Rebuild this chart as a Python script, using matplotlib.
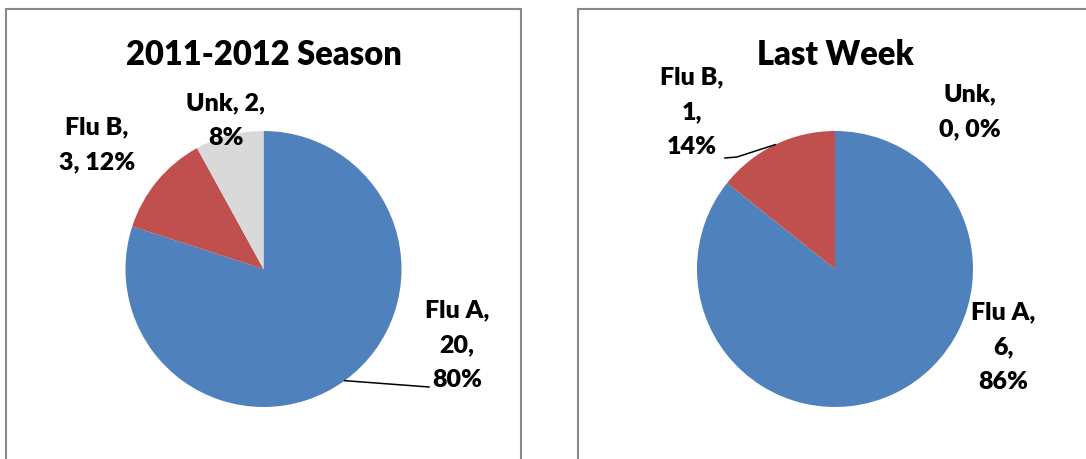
import numpy as np
import matplotlib
matplotlib.use('Agg')
import matplotlib.pyplot as plt
from matplotlib.patches import Rectangle

# data
categories = ['Flu A', 'Flu B', 'Unk']
season_counts = [20, 3, 2]
week_counts = [6, 1, 0]
titles = ['2011-2012 Season', 'Last Week']
colors = ['#4F81BD', '#C0504D', '#D9D9D9']

plt.rcParams['font.family'] = ['Lato', 'DejaVu Sans']

W, H = 1086, 460
R = 138.0      # pie radius in px
CY = 270.0     # pie centre (image y, from top)

fig = plt.figure(figsize=(W / 100, H / 100), dpi=100)

# panel borders
for x0, x1 in [(6, 521), (578, 1095)]:
    fig.add_artist(Rectangle((x0 / W, -0.05), (x1 - x0) / W, (H - 10) / H + 0.05,
                             transform=fig.transFigure, fill=False,
                             edgecolor='#898989', linewidth=1.5))


def make_axes(cx):
    ax = fig.add_axes([(cx - 280) / W, 0, 560 / W, 1])
    return ax


def px(x, y, cx):
    return (x - cx) / R, (CY - y) / R


def label_text(name, count, pct, layout):
    return layout.format(name=name, n=count, p=pct)


panels = [
    dict(cx=263.5, counts=season_counts, title=titles[0],
         labels=[('{name},\n{n},\n{p}%', 457, 345),
                 ('{name},\n{n}, {p}%', 97, 145),
                 ('{name}, {n},\n{p}%', 226, 121)],
         leader={0: [(429, 388)]}),
    dict(cx=835, counts=week_counts, title=titles[1],
         labels=[('{name},\n{n},\n{p}%', 1003, 347),
                 ('{name},\n{n},\n{p}%', 692, 112),
                 ('{name},\n{n}, {p}%', 970, 112)],
         leader={1: [(737, 158), (725, 159)]}),
]

for p in panels:
    cx = p['cx']
    ax = make_axes(cx)
    counts = p['counts']
    total = sum(counts)
    wedges, _ = ax.pie(counts, colors=colors, startangle=90, counterclock=False,
                       radius=1.0, wedgeprops=dict(linewidth=0))
    ax.set_xlim(-280 / R, 280 / R)
    ax.set_ylim(-(H - CY) / R, CY / R)
    ax.set_aspect('auto')
    ax.axis('off')

    tx, ty = px(cx, 55, cx)
    ax.text(tx, ty, p['title'], ha='center', va='center', fontsize=23.5,
            fontweight='heavy', color='black')

    for i, (layout, lx, ly) in enumerate(p['labels']):
        pct = int(round(100.0 * counts[i] / total))
        s = label_text(categories[i], counts[i], pct, layout)
        x, y = px(lx, ly, cx)
        ax.text(x, y, s, ha='center', va='center', multialignment='center',
                fontsize=18, fontweight='heavy', color='black', linespacing=1.7)

    for i, pts in p['leader'].items():
        w = wedges[i]
        mid = np.deg2rad((w.theta1 + w.theta2) / 2)
        xs = [np.cos(mid)] + [px(a, b, cx)[0] for a, b in pts]
        ys = [np.sin(mid)] + [px(a, b, cx)[1] for a, b in pts]
        ax.plot(xs, ys, color='black', linewidth=1.1)

fig.savefig('out.png', dpi=100)
